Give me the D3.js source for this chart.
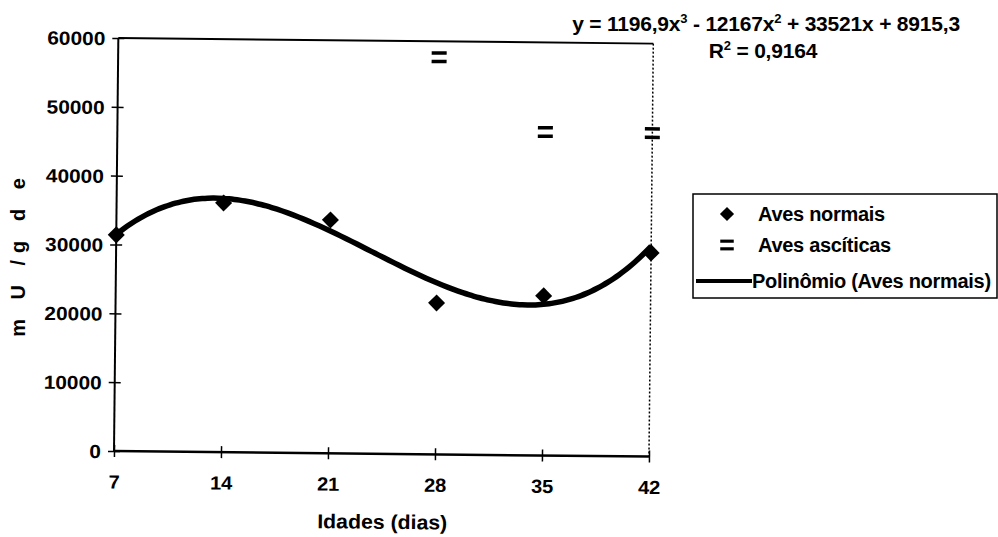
<!DOCTYPE html>
<html>
<head>
<meta charset="utf-8">
<script src="https://cdn.jsdelivr.net/npm/d3@7"></script>
<style>
body { margin: 0; background: #fff; }
text { font-family: "Liberation Sans", Arial, sans-serif; font-weight: bold; fill: #000; }
</style>
</head>
<body>
<script>
var idades = [7, 14, 21, 28, 35, 42];
var avesNormais = [31400, 36200, 33900, 22000, 23200, 29600];
var ascIdades = [28, 35, 42];
var avesAsciticas = [57700, 47000, 47000];
var yTicks = [0, 10000, 20000, 30000, 40000, 50000, 60000];
// trendline coefficients (x = point index 1..6): a3, a2, a1, a0
var coef = [1196.9, -12167, 33521, 8915.3];

var W = 998, H = 537;
var mLeft = 114, mRight = 649, mTop = 38, mBottom = 451;
var tilt = 0.6; // the scanned original is slightly rotated

var svg = d3.select("body").append("svg")
	.attr("width", W)
	.attr("height", H);

var plot = svg.append("g")
	.attr("transform", "rotate(" + tilt + "," + mLeft + "," + mBottom + ")");

var x = d3.scaleLinear().domain([7, 42]).range([mLeft, mRight]);
var y = d3.scaleLinear().domain([0, 60000]).range([mBottom, mTop]);

// stretch digits a bit, the original font is wide
function widen(sel, per){
	sel.attr("textLength", function(){ return this.textContent.length * per; })
		.attr("lengthAdjust", "spacingAndGlyphs");
}

// plot border: top solid, right dotted
plot.append("line").attr("x1", mLeft).attr("x2", mRight).attr("y1", mTop).attr("y2", mTop)
	.attr("stroke", "#000").attr("stroke-width", 2);
plot.append("line").attr("x1", mRight).attr("x2", mRight).attr("y1", mTop).attr("y2", mBottom)
	.attr("stroke", "#000").attr("stroke-width", 1.5).attr("stroke-dasharray", "2,2");

// axes
var yAxis = plot.append("g").attr("transform", "translate(" + mLeft + ",0)")
	.call(d3.axisLeft(y).tickValues(yTicks).tickSize(6).tickFormat(d3.format("d")));
yAxis.selectAll(".tick line").attr("x2", 6).attr("x1", -6).attr("stroke-width", 1.5);
yAxis.select(".domain").attr("stroke-width", 2).attr("d", "M0," + mBottom + "V" + mTop);
yAxis.selectAll("text").attr("x", -13).attr("dy", "0.36em").style("font-size", "19px").call(widen, 11.6);

var xAxis = plot.append("g").attr("transform", "translate(0," + mBottom + ")")
	.call(d3.axisBottom(x).tickValues(idades).tickSize(6));
xAxis.selectAll(".tick line").attr("y1", -6).attr("y2", 6).attr("stroke-width", 1.5);
xAxis.select(".domain").attr("stroke-width", 2.5).attr("d", "M" + mLeft + ",0H" + mRight);
xAxis.selectAll("text").attr("y", 24).style("font-size", "19px").call(widen, 11.2);

// trendline
var trend = d3.range(1, 6.001, 0.05).map(function(t){
	var v = coef[0]*t*t*t + coef[1]*t*t + coef[2]*t + coef[3];
	return [7 * t, v];
});
plot.append("path")
	.datum(trend)
	.attr("fill", "none")
	.attr("stroke", "#000")
	.attr("stroke-width", 5.5)
	.attr("d", d3.line().curve(d3.curveBasis).x(function(d){return x(d[0]);}).y(function(d){return y(d[1]);}));

// diamonds
var diamond = d3.symbol().type(d3.symbolSquare).size(145);
plot.selectAll("path.normal")
	.data(idades)
	.enter()
	.append("path")
	.attr("class", "normal")
	.attr("d", diamond)
	.attr("transform", function(d, i){return "translate(" + x(d) + "," + y(avesNormais[i]) + ") rotate(45)";})
	.attr("fill", "#000");

// "=" markers
function eq(g){
	g.append("rect").attr("x", -7.5).attr("y", -6).attr("width", 15).attr("height", 3.5).attr("fill", "#000");
	g.append("rect").attr("x", -7.5).attr("y", 2.5).attr("width", 15).attr("height", 3.5).attr("fill", "#000");
}
plot.selectAll("g.asc")
	.data(ascIdades)
	.enter()
	.append("g")
	.attr("class", "asc")
	.attr("transform", function(d, i){return "translate(" + x(d) + "," + y(avesAsciticas[i]) + ")";})
	.each(function(){ eq(d3.select(this)); });

// x title
plot.append("text").attr("x", 383).attr("y", 526).attr("text-anchor", "middle")
	.style("font-size", "20px").attr("textLength", 130).attr("lengthAdjust", "spacingAndGlyphs")
	.text("Idades (dias)");

// equation
svg.append("text").attr("x", 766).attr("y", 31).attr("text-anchor", "middle")
	.style("font-size", "21px").style("letter-spacing", "-0.2px")
	.html('y = 1196,9x<tspan dy="-8" font-size="13">3</tspan><tspan dy="8"> - 12167x</tspan><tspan dy="-8" font-size="13">2</tspan><tspan dy="8"> + 33521x + 8915,3</tspan>');
svg.append("text").attr("x", 763).attr("y", 58).attr("text-anchor", "middle")
	.style("font-size", "21px").style("letter-spacing", "-0.2px")
	.html('R<tspan dy="-8" font-size="13">2</tspan><tspan dy="8"> = 0,9164</tspan>');

// y title
svg.append("text").attr("transform", "translate(25,254) rotate(-90)").attr("text-anchor", "middle")
	.style("font-size", "20px").style("letter-spacing", "7px").text("m U /g d e");

// legend
var lg = svg.append("g");
lg.append("rect").attr("x", 693).attr("y", 194).attr("width", 304).attr("height", 104)
	.attr("fill", "#fff").attr("stroke", "#000").attr("stroke-width", 1.5);
var legendItems = ["Aves normais", "Aves ascíticas", "Polinômio (Aves normais)"];
var legendY = [214, 245, 281];
lg.selectAll("text.leg")
	.data(legendItems)
	.enter()
	.append("text")
	.attr("class", "leg")
	.attr("x", function(d, i){return i === 2 ? 752 : 758;})
	.attr("y", function(d, i){return legendY[i] + 7;})
	.style("font-size", "20px").style("letter-spacing", "-0.3px")
	.text(function(d){return d;});
lg.append("path").attr("d", d3.symbol().type(d3.symbolSquare).size(100))
	.attr("transform", "translate(727," + legendY[0] + ") rotate(45)").attr("fill", "#000");
eq(lg.append("g").attr("transform", "translate(727," + legendY[1] + ") scale(0.9)"));
lg.append("line").attr("x1", 696).attr("x2", 752).attr("y1", legendY[2]).attr("y2", legendY[2])
	.attr("stroke", "#000").attr("stroke-width", 4);
</script>
</body>
</html>
